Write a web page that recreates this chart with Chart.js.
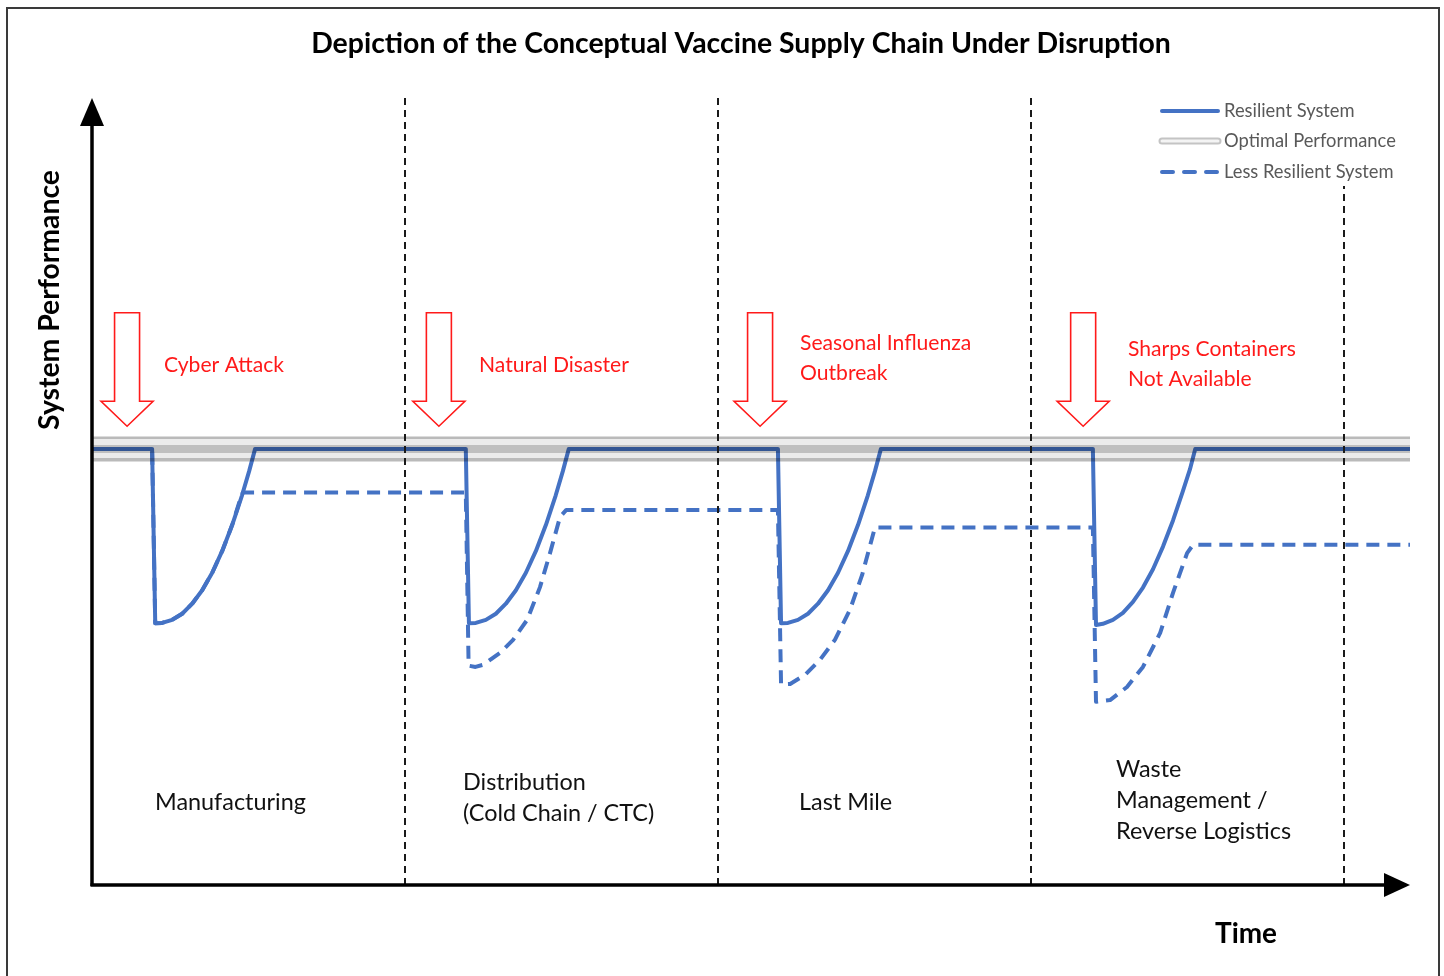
<!DOCTYPE html>
<html><head><meta charset="utf-8">
<script src="https://cdn.jsdelivr.net/npm/chart.js@4.4.0/dist/chart.umd.min.js"></script>
<style>
html,body{margin:0;padding:0;background:#fff;}
canvas{display:block}
</style></head><body>
<canvas id="c" width="1444" height="976"></canvas>
<script>
// ---------- DATA ----------
const chartTitle = 'Depiction of the Conceptual Vaccine Supply Chain Under Disruption';
const xAxisTitle = 'Time';
const yAxisTitle = 'System Performance';
const seriesNames = ['Resilient System', 'Optimal Performance', 'Less Resilient System'];
const phaseNames = [['Manufacturing'], ['Distribution', '(Cold Chain / CTC)'], ['Last Mile'], ['Waste', 'Management /', 'Reverse Logistics']];
const disruptionNames = [['Cyber Attack'], ['Natural Disaster'], ['Seasonal Influenza', 'Outbreak'], ['Sharps Containers', 'Not Available']];
const phaseBoundaries = [100, 200, 300, 400];
const disruptionTimes = [11.2, 110.8, 213.4, 316.6];
const timeRange = [0, 421];
const perfRange = [0, 180];

const optimalTime = [0, 421];
const optimalPerf = [100, 100];

const resilientTime = [0, 19.2, 20.2, 22.4, 25.6, 28.8, 32, 35.2, 38.4, 41.6, 44.8, 47.9, 50.2, 52.1,
  119.4, 120.4, 122.6, 125.8, 129, 132.2, 135.4, 138.6, 141.8, 145, 148.1, 150.4, 152.3,
  219.1, 220.1, 222.3, 225.5, 228.7, 231.9, 235.1, 238.3, 241.5, 244.7, 247.8, 250.1, 252.0,
  319.7, 320.7, 322.9, 326.1, 329.3, 332.5, 335.7, 338.9, 342.1, 345.3, 348.4, 350.7, 352.4, 421];
const resilientPerf = [100, 100, 60, 60.1, 60.8, 62.2, 64.5, 67.6, 71.6, 76.6, 82.6, 89.3, 94.9, 100,
  100, 60, 60.1, 60.8, 62.2, 64.5, 67.6, 71.6, 76.6, 82.6, 89.3, 94.9, 100,
  100, 60, 60.1, 60.8, 62.2, 64.5, 67.6, 71.6, 76.6, 82.6, 89.3, 94.9, 100,
  100, 59.6, 59.9, 60.8, 62.4, 64.9, 68.2, 72.4, 77.6, 83.6, 90.2, 95.3, 100, 100];

const lessResilientTime = [0, 19.2, 20.2, 22.4, 25.6, 28.8, 32, 35.2, 38.4, 41.6, 44.8, 47.6, 48.2,
  119.4, 120.3, 122.5, 125, 127.5, 130.3, 134.5, 139, 143.1, 146.3, 149.5, 151.5,
  219.1, 220.1, 223, 227.8, 232.5, 237.3, 242.1, 246, 250.1,
  319.7, 320.7, 325.2, 330.6, 335.7, 341.2, 345.3, 349.8, 351.7, 421];
const lessResilientPerf = [100, 100, 60, 60.1, 60.8, 62.2, 64.5, 67.6, 71.6, 76.6, 82.6, 89, 90,
  90, 50.3, 50, 50.5, 51.8, 53.2, 56.2, 60.8, 68.3, 76.1, 84.4, 86,
  86, 46, 46.1, 48.2, 51.6, 56.2, 63.1, 71.1, 82,
  82, 42, 42.4, 45.4, 50, 57.8, 67, 76.1, 78, 78];

// ---------- LAYOUT / STYLE ----------
const BLUE = '#4472C4';
const RED = '#FF1A1A';
const FONT = 'Lato, "Open Sans", sans-serif';
const txt = {
  title: { x: 741, y: 44, w: 860 },
  phase: [
    { x: 155, y: 802 }, { x: 463, y: 782 }, { x: 799, y: 802 }, { x: 1116, y: 769 }
  ],
  phaseLine: 31,
  disruption: [
    { x: 164, y: 365 }, { x: 479, y: 365 }, { x: 800, y: 343 }, { x: 1128, y: 349 }
  ],
  disruptionLine: 30,
  yTitle: { x: 50, y: 300, w: 260 },
  xTitle: { x: 1246, y: 934, w: 62 },
  legend: { x0: 1160, x1: 1220, tx: 1224, ys: [111, 141, 172], w: 172 }
};

function fitSize(ctx, text, weight, target) {
  ctx.font = `${weight} 100px ${FONT}`;
  return 100 * target / ctx.measureText(text).width;
}

const bandColor = (c) => {
  const ch = c.chart;
  if (!ch.chartArea) return 'rgba(0,0,0,0.25)';
  const yc = ch.scales.y.getPixelForValue(optimalPerf[0]);
  const g = ch.ctx.createLinearGradient(0, yc - 12.5, 0, yc + 12.5);
  const outer = 'rgba(0,0,0,0.27)', inner = 'rgba(0,0,0,0.08)', mid = 'rgba(0,0,0,0.25)';
  g.addColorStop(0, outer); g.addColorStop(0.12, outer);
  g.addColorStop(0.121, inner); g.addColorStop(0.33, inner);
  g.addColorStop(0.331, mid); g.addColorStop(0.67, mid);
  g.addColorStop(0.671, inner); g.addColorStop(0.88, inner);
  g.addColorStop(0.881, outer); g.addColorStop(1, outer);
  return g;
};

const decor = {
  id: 'decor',
  afterDatasetsDraw(chart) {
    const { ctx, chartArea: a, scales: { x, y } } = chart;
    ctx.save();
    // phase dividers
    ctx.strokeStyle = '#1a1a1a'; ctx.lineWidth = 2; ctx.setLineDash([7, 5]);
    phaseBoundaries.forEach(b => {
      const px = Math.round(x.getPixelForValue(b));
      ctx.beginPath(); ctx.moveTo(px, a.top - 2); ctx.lineTo(px, a.bottom); ctx.stroke();
    });
    ctx.setLineDash([]);
    // axes
    ctx.strokeStyle = '#000'; ctx.fillStyle = '#000'; ctx.lineWidth = 3.5;
    ctx.beginPath(); ctx.moveTo(a.left, a.bottom + 1); ctx.lineTo(a.left, a.top + 20); ctx.stroke();
    ctx.beginPath(); ctx.moveTo(a.left - 1.5, a.bottom); ctx.lineTo(a.right - 20, a.bottom); ctx.stroke();
    ctx.beginPath(); ctx.moveTo(a.left, a.top - 2); ctx.lineTo(a.left - 12, a.top + 26); ctx.lineTo(a.left + 12, a.top + 26); ctx.closePath(); ctx.fill();
    ctx.beginPath(); ctx.moveTo(a.right, a.bottom); ctx.lineTo(a.right - 26, a.bottom - 12); ctx.lineTo(a.right - 26, a.bottom + 12); ctx.closePath(); ctx.fill();
    // disruption arrows
    ctx.strokeStyle = RED; ctx.fillStyle = '#fff'; ctx.lineWidth = 1.6; ctx.lineJoin = 'miter';
    const yTop = y.getPixelForValue(131.2), yTip = y.getPixelForValue(105.2);
    disruptionTimes.forEach(t => {
      const cx = x.getPixelForValue(t);
      const hb = yTip - 25;
      ctx.beginPath();
      ctx.moveTo(cx - 12.5, yTop); ctx.lineTo(cx + 12.5, yTop); ctx.lineTo(cx + 12.5, hb);
      ctx.lineTo(cx + 26, hb); ctx.lineTo(cx, yTip); ctx.lineTo(cx - 26, hb); ctx.lineTo(cx - 12.5, hb);
      ctx.closePath(); ctx.fill(); ctx.stroke();
    });
    // disruption labels
    const rs = fitSize(ctx, disruptionNames[1][0], 'normal', 150);
    ctx.font = `normal ${rs}px ${FONT}`; ctx.fillStyle = RED; ctx.textBaseline = 'middle'; ctx.textAlign = 'left';
    disruptionNames.forEach((lines, i) => lines.forEach((s, j) => ctx.fillText(s, txt.disruption[i].x, txt.disruption[i].y + j * txt.disruptionLine)));
    // phase labels
    const ps = fitSize(ctx, phaseNames[0][0], 'normal', 151);
    ctx.font = `normal ${ps}px ${FONT}`; ctx.fillStyle = '#111';
    phaseNames.forEach((lines, i) => lines.forEach((s, j) => ctx.fillText(s, txt.phase[i].x, txt.phase[i].y + j * txt.phaseLine)));
    // title
    const ts = fitSize(ctx, chartTitle, 'bold', txt.title.w);
    ctx.font = `bold ${ts}px ${FONT}`; ctx.fillStyle = '#000'; ctx.textAlign = 'center';
    ctx.fillText(chartTitle, txt.title.x, txt.title.y);
    // axis titles
    const xs = fitSize(ctx, xAxisTitle, 'bold', txt.xTitle.w);
    ctx.font = `bold ${xs}px ${FONT}`;
    ctx.fillText(xAxisTitle, txt.xTitle.x, txt.xTitle.y);
    const ys = fitSize(ctx, yAxisTitle, 'bold', txt.yTitle.w);
    ctx.font = `bold ${ys}px ${FONT}`;
    ctx.save(); ctx.translate(txt.yTitle.x, txt.yTitle.y); ctx.rotate(-Math.PI / 2); ctx.fillText(yAxisTitle, 0, 0); ctx.restore();
    // legend
    const L = txt.legend;
    ctx.fillStyle = '#fff'; ctx.fillRect(L.x0 - 10, 94, 1405 - L.x0 + 10, 92);
    ctx.lineCap = 'round';
    ctx.strokeStyle = BLUE; ctx.lineWidth = 4;
    ctx.beginPath(); ctx.moveTo(L.x0 + 2, L.ys[0]); ctx.lineTo(L.x1 - 2, L.ys[0]); ctx.stroke();
    ctx.strokeStyle = '#c4c4c4'; ctx.lineWidth = 7;
    ctx.beginPath(); ctx.moveTo(L.x0 + 2, L.ys[1]); ctx.lineTo(L.x1 - 2, L.ys[1]); ctx.stroke();
    ctx.strokeStyle = '#f4f4f4'; ctx.lineWidth = 3;
    ctx.beginPath(); ctx.moveTo(L.x0 + 2, L.ys[1]); ctx.lineTo(L.x1 - 2, L.ys[1]); ctx.stroke();
    ctx.strokeStyle = BLUE; ctx.lineWidth = 4; ctx.setLineDash([11, 11]);
    ctx.beginPath(); ctx.moveTo(L.x0 + 2, L.ys[2]); ctx.lineTo(L.x1, L.ys[2]); ctx.stroke();
    ctx.setLineDash([]);
    const ls = fitSize(ctx, seriesNames[1], 'normal', L.w);
    ctx.font = `normal ${ls}px ${FONT}`; ctx.fillStyle = '#595959'; ctx.textAlign = 'left';
    ctx.fillText(seriesNames[0], L.tx, L.ys[0]);
    ctx.fillText(seriesNames[1], L.tx, L.ys[1]);
    ctx.fillText(seriesNames[2], L.tx, L.ys[2]);
    // outer frame
    ctx.strokeStyle = '#3a3a3a'; ctx.lineWidth = 2;
    ctx.strokeRect(7, 8, 1432, 1100);
    ctx.restore();
  }
};

const toPts = (xs, ys) => xs.map((t, i) => ({ x: t, y: ys[i] }));

new Chart(document.getElementById('c'), {
  type: 'line',
  data: {
    datasets: [
      { label: seriesNames[1], data: toPts(optimalTime, optimalPerf), borderColor: bandColor, borderWidth: 25,
        borderCapStyle: 'butt', pointRadius: 0, order: 1 },
      { label: seriesNames[0], data: toPts(resilientTime, resilientPerf), borderColor: BLUE, borderWidth: 4,
        borderJoinStyle: 'round', pointRadius: 0, order: 2 },
      { label: seriesNames[2], data: toPts(lessResilientTime, lessResilientPerf), borderColor: BLUE, borderWidth: 4,
        borderDash: [13, 8], borderJoinStyle: 'round', pointRadius: 0, order: 3 }
    ]
  },
  options: {
    responsive: false, animation: false, devicePixelRatio: 1,
    layout: { padding: { left: 92, right: 34, top: 100, bottom: 91 } },
    elements: { line: { tension: 0, fill: false } },
    scales: {
      x: { type: 'linear', min: timeRange[0], max: timeRange[1], display: false },
      y: { type: 'linear', min: perfRange[0], max: perfRange[1], display: false }
    },
    plugins: { legend: { display: false }, tooltip: { enabled: false }, title: { display: false } }
  },
  plugins: [decor]
});
</script>
</body></html>
